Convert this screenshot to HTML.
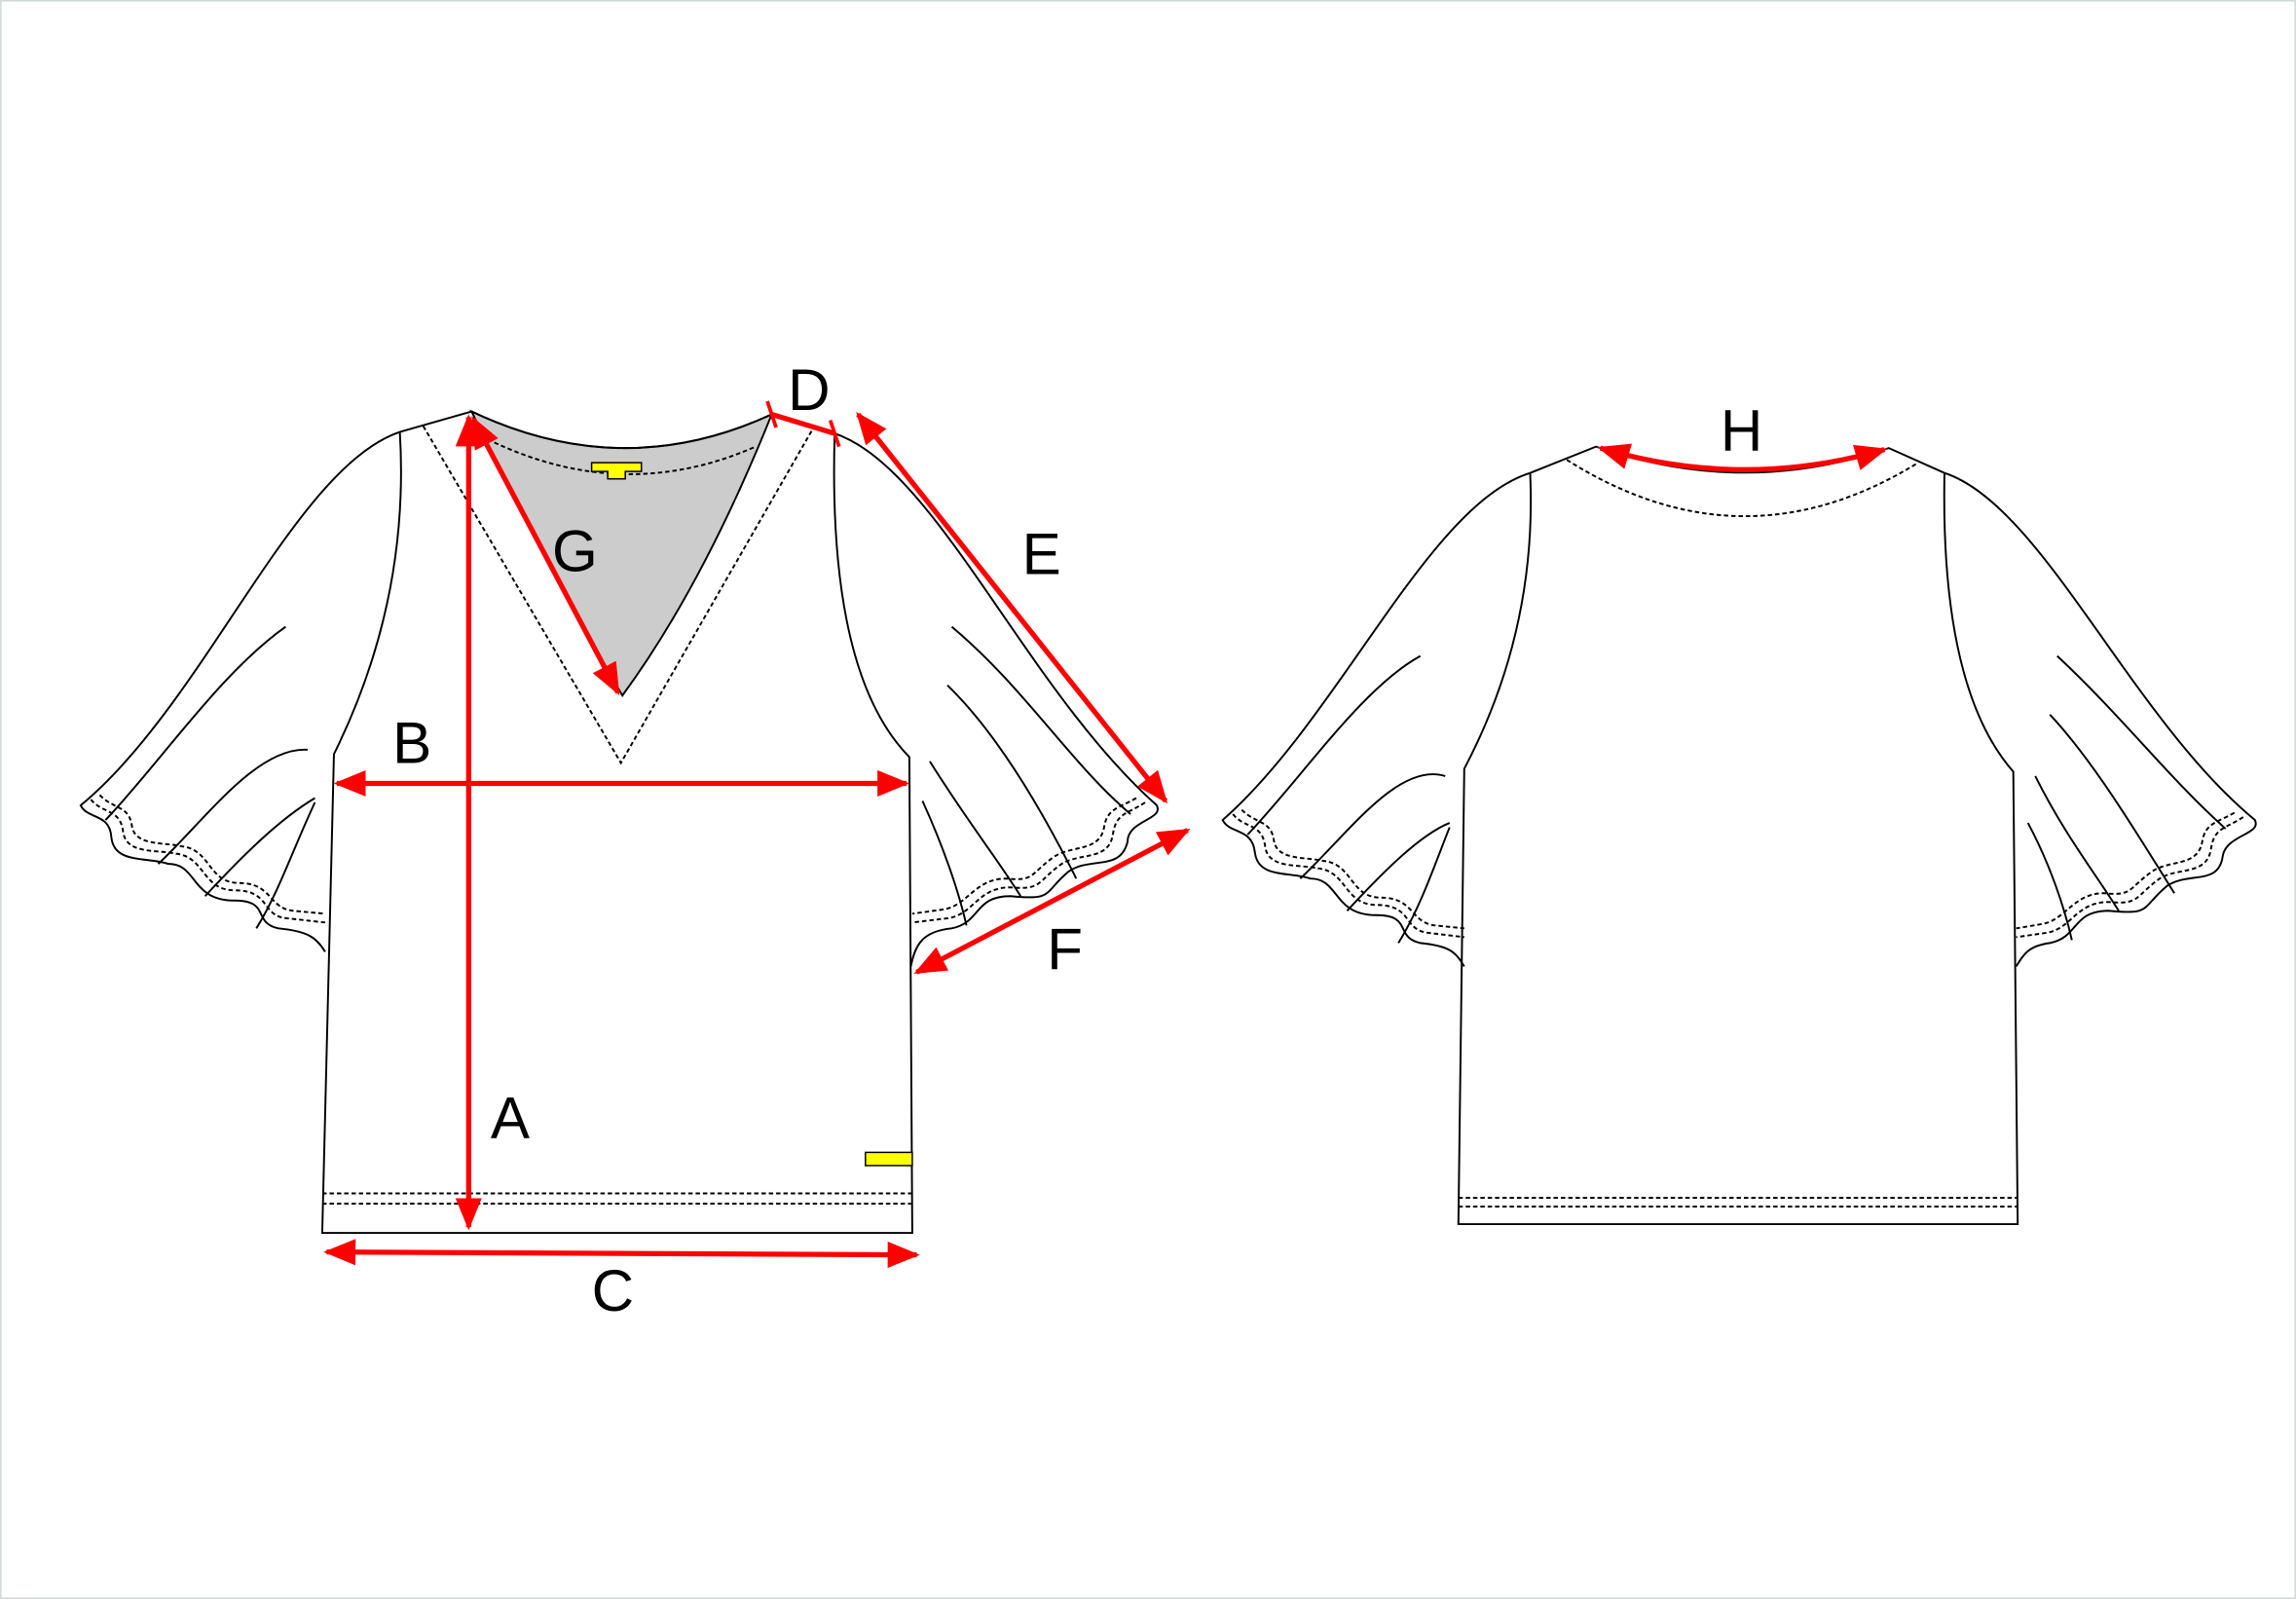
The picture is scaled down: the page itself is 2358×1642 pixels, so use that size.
<!DOCTYPE html>
<html><head><meta charset="utf-8"><style>
html,body{margin:0;padding:0;background:#fff;}
svg{display:block;}
text{font-family:"Liberation Sans",sans-serif;font-size:40px;fill:#000;}
</style></head><body>
<svg width="2358" height="1642" viewBox="0 0 1568 1092" xmlns="http://www.w3.org/2000/svg">
<defs>
<marker id="a" viewBox="0 0 10 10" refX="9" refY="5" markerWidth="22" markerHeight="18" markerUnits="userSpaceOnUse" orient="auto-start-reverse" preserveAspectRatio="none">
<path d="M0,0 L10,5 L0,10 z" fill="#f00"/></marker>
</defs>
<rect x="0.5" y="0.5" width="1567" height="1091" fill="#fff" stroke="#cfd8d4"/>
<g fill="none" stroke="#000" stroke-width="1.3">
<path d="M322,281 Q425,330 527,283 Q480,400 425,475 Q375,390 322,281 Z" fill="#ccc"/>
<path d="M322,281 Q425,330 527,283"/>
<path d="M273,295 L322,281 M527,283 L570,296"/>
<path d="M333,300 Q425,345 516,305" stroke-dasharray="3,2"/>
<path d="M289,291 L424,521 L555,293" stroke-dasharray="3,2"/>
<path d="M273,295 Q280,410 228,515 L220,842 L623,842 L621,517 Q565,460 570,296"/>
<path d="M220,815 L623,815 M220,822 L623,822" stroke-dasharray="3,2"/>
<path d="M273,295 C200,320 140,480 55,550 C60,560 75,555 76,572 C78,590 100,585 115,590 C135,590 130,615 160,615 C185,615 172,630 190,634 C210,636 216,640 222,650"/>
<path d="M62,546 C70,556 82,552 84,568 C86,584 108,580 120,583 C140,585 138,608 160,608 C185,608 178,625 195,627 L222,630" stroke-dasharray="3,2"/>
<path d="M68,543 C78,553 88,550 90,564 C92,578 112,575 124,578 C144,580 142,603 163,603 C186,603 183,620 200,622 L222,624" stroke-dasharray="3,2"/>
<path d="M72,560 C110,520 150,460 195,428 M108,590 C140,560 175,510 210,512 M140,612 C165,585 190,560 215,545 M175,634 C190,610 200,580 215,548"/>
<path d="M570,296 C640,320 700,470 790,550 C795,560 770,560 770,575 C765,595 745,585 730,595 C712,610 720,615 690,612 C665,612 670,630 650,634 C630,636 625,645 622,660"/>
<path d="M782,548 C770,556 762,555 760,570 C757,588 738,582 725,590 C708,602 712,608 690,606 C668,606 665,624 648,627 L623,630" stroke-dasharray="3,2"/>
<path d="M776,545 C764,552 756,552 754,565 C751,582 732,577 720,585 C703,597 707,602 687,600 C666,600 661,618 645,621 L623,624" stroke-dasharray="3,2"/>
<path d="M650,428 C700,470 730,520 772,556 M647,468 C680,500 710,550 735,600 M635,520 C660,560 680,585 697,612 M630,547 C645,580 655,610 660,632"/>
<path d="M1045,323 L1090,305 Q1190,340 1290,306 L1328,323"/>
<path d="M1070,314 Q1190,390 1310,316" stroke-dasharray="3,2"/>
<path d="M1045,323 Q1050,430 1000,525 L996,836 L1378,836 L1375,527 Q1325,470 1328,323"/>
<path d="M996,818 L1378,818 M996,824 L1378,824" stroke-dasharray="3,2"/>
<path d="M1045,323 C975,345 915,490 835,560 C840,570 855,565 857,582 C859,600 880,595 895,600 C915,600 910,625 940,625 C965,625 952,640 970,644 C990,646 994,650 1000,660"/>
<path d="M842,556 C850,566 862,562 864,578 C866,594 888,590 900,593 C920,595 918,618 940,618 C965,618 958,635 975,637 L1000,640" stroke-dasharray="3,2"/>
<path d="M848,553 C858,563 868,560 870,574 C872,588 892,585 904,588 C924,590 922,613 943,613 C966,613 963,630 980,632 L1000,634" stroke-dasharray="3,2"/>
<path d="M852,570 C890,530 930,470 970,448 M888,600 C920,570 955,520 987,530 M920,622 C945,595 970,570 990,562 M955,644 C970,620 980,590 990,565"/>
<path d="M1328,323 C1395,345 1455,490 1540,560 C1545,570 1520,570 1518,585 C1515,605 1495,595 1480,605 C1462,620 1470,625 1440,622 C1415,622 1420,640 1400,644 C1385,646 1382,652 1377,660"/>
<path d="M1532,558 C1520,566 1512,565 1510,580 C1507,598 1488,592 1475,600 C1458,612 1462,618 1440,616 C1418,616 1415,634 1398,637 L1377,640" stroke-dasharray="3,2"/>
<path d="M1526,555 C1514,562 1506,562 1504,575 C1501,592 1482,587 1470,595 C1453,607 1457,612 1437,610 C1416,610 1411,628 1395,631 L1377,634" stroke-dasharray="3,2"/>
<path d="M1405,448 C1450,490 1480,530 1520,566 M1400,488 C1430,520 1460,570 1485,610 M1390,530 C1410,570 1430,595 1447,622 M1385,562 C1400,590 1410,620 1415,642"/>
</g>
<path d="M404,316 H438 V322 H427 V327 H415 V322 H404 Z" fill="#ff0" stroke="#000" stroke-width="1"/>
<rect x="591" y="787" width="32" height="9" fill="#ff0" stroke="#000" stroke-width="1"/>
<g stroke="#f00" stroke-width="3.5" fill="none">
<line x1="320" y1="285" x2="320" y2="838" marker-start="url(#a)" marker-end="url(#a)"/>
<line x1="230" y1="535" x2="619" y2="535" marker-start="url(#a)" marker-end="url(#a)"/>
<line x1="223" y1="855" x2="626" y2="857" marker-start="url(#a)" marker-end="url(#a)"/>
<line x1="527" y1="283" x2="570" y2="296"/>
<line x1="524" y1="274" x2="530" y2="292" stroke-width="2.5"/>
<line x1="567" y1="287" x2="573" y2="305" stroke-width="2.5"/>
<line x1="586" y1="283" x2="796" y2="547" marker-start="url(#a)" marker-end="url(#a)"/>
<line x1="811" y1="567" x2="626" y2="664" marker-start="url(#a)" marker-end="url(#a)"/>
<line x1="323" y1="286" x2="422" y2="473" marker-start="url(#a)" marker-end="url(#a)"/>
<path d="M1093,306 Q1190,335 1287,307" marker-start="url(#a)" marker-end="url(#a)"/>
</g>
<text x="335" y="777">A</text>
<text x="268" y="521">B</text>
<text x="404" y="895">C</text>
<text x="538" y="280">D</text>
<text x="698" y="392">E</text>
<text x="715" y="662">F</text>
<text x="377" y="390">G</text>
<text x="1175" y="308">H</text>
</svg>
</body></html>
